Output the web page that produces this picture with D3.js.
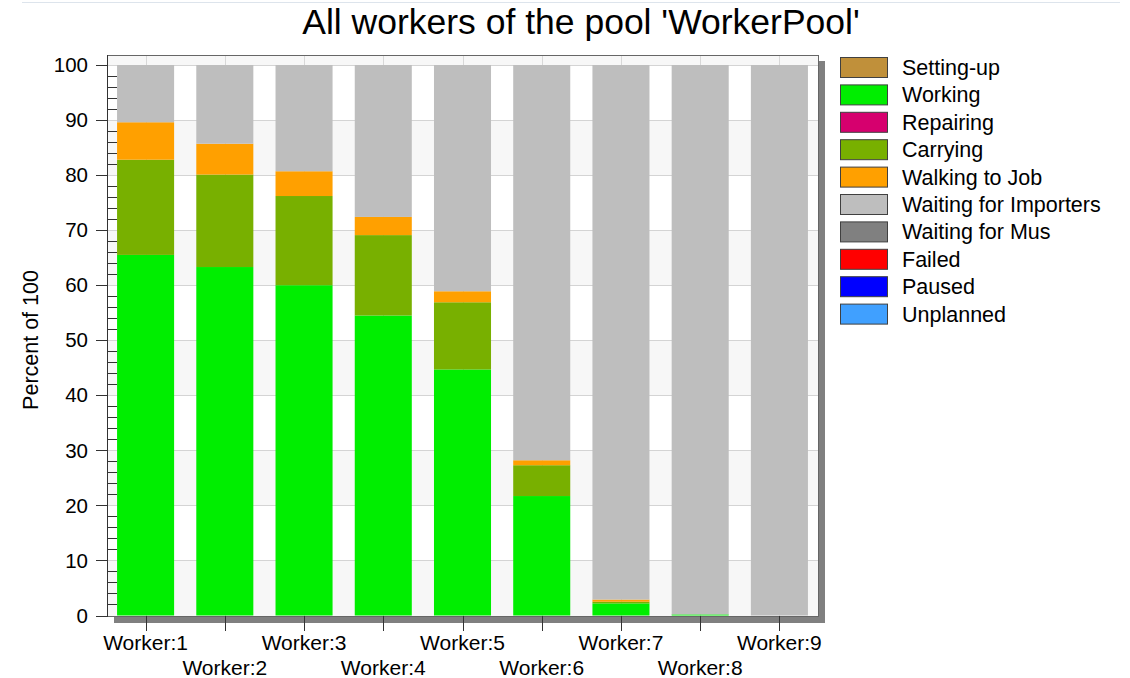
<!DOCTYPE html>
<html lang="en">
  <head>
    <meta charset="UTF-8" />
    <script src="https://d3js.org/d3.v7.min.js"></script>
    <title>All workers of the pool 'WorkerPool'</title>
    <style>
      body {
        margin: 0;
        background: #fff;
      }
      text {
        font-family: Arial, 'Liberation Sans', sans-serif;
        fill: #000;
      }
    </style>
  </head>
  <body>
    <script>
      const workers = ['Worker:1', 'Worker:2', 'Worker:3', 'Worker:4', 'Worker:5', 'Worker:6', 'Worker:7', 'Worker:8', 'Worker:9']
      const states = ['Setting-up', 'Working', 'Repairing', 'Carrying', 'Walking to Job', 'Waiting for Importers', 'Waiting for Mus', 'Failed', 'Paused', 'Unplanned']
      const stateColors = ['#c0903a', '#00ee00', '#d6006e', '#78b000', '#ffa000', '#bebebe', '#808080', '#ff0000', '#0000ff', '#40a0ff']

      const settingUp = [0, 0, 0, 0, 0, 0, 0, 0, 0]
      const working = [65.5, 63.3, 60.0, 54.5, 44.7, 21.7, 2.2, 0.2, 0]
      const repairing = [0, 0, 0, 0, 0, 0, 0, 0, 0]
      const carrying = [17.3, 16.8, 16.2, 14.6, 12.2, 5.6, 0.3, 0, 0]
      const walkingToJob = [6.8, 5.6, 4.5, 3.3, 2.0, 0.9, 0.4, 0, 0]
      const waitingImporters = [10.4, 14.3, 19.3, 27.6, 41.1, 71.8, 97.1, 99.8, 100]
      const waitingMus = [0, 0, 0, 0, 0, 0, 0, 0, 0]
      const failed = [0, 0, 0, 0, 0, 0, 0, 0, 0]
      const paused = [0, 0, 0, 0, 0, 0, 0, 0, 0]
      const unplanned = [0, 0, 0, 0, 0, 0, 0, 0, 0]

      const yTicks = [0, 10, 20, 30, 40, 50, 60, 70, 80, 90, 100]

      const series = [settingUp, working, repairing, carrying, walkingToJob, waitingImporters, waitingMus, failed, paused, unplanned]
      const table = workers.map((w, i) => {
        const row = { worker: w }
        states.forEach((s, j) => { row[s] = series[j][i] })
        return row
      })

      const width = 1130
      const height = 678
      const frame = { left: 107, right: 818, top: 55, bottom: 616 }

      const svg = d3.select('body')
        .append('svg')
        .attr('width', width)
        .attr('height', height)

      const x = d3.scaleBand()
        .domain(workers)
        .range([frame.left, frame.right])
        .paddingInner(0.28)
        .paddingOuter(0.127)

      const y = d3.scaleLinear()
        .domain([0, 100])
        .range([615.5, 65])

      // faint page rule at the top
      svg.append('line')
        .attr('x1', 22).attr('x2', 1120)
        .attr('y1', 2.5).attr('y2', 2.5)
        .attr('stroke', '#dde4ec')

      // drop shadow of the plot frame
      svg.append('rect')
        .attr('x', frame.left + 7).attr('y', frame.bottom + 1)
        .attr('width', frame.right - frame.left).attr('height', 6)
        .attr('fill', '#808080')
      svg.append('rect')
        .attr('x', frame.right + 1).attr('y', frame.top + 6)
        .attr('width', 6).attr('height', frame.bottom - frame.top + 1)
        .attr('fill', '#808080')

      // plot background with alternating bands
      svg.append('rect')
        .attr('x', frame.left).attr('y', frame.top)
        .attr('width', frame.right - frame.left).attr('height', frame.bottom - frame.top)
        .attr('fill', '#f7f7f7')

      svg.append('g')
        .selectAll('rect')
        .data(yTicks.slice(0, -1))
        .join('rect')
        .attr('x', frame.left)
        .attr('y', d => y(d + 10))
        .attr('width', frame.right - frame.left)
        .attr('height', d => y(d) - y(d + 10))
        .attr('fill', d => (d / 10) % 2 === 0 ? '#f7f7f7' : '#ffffff')

      // grid
      svg.append('g')
        .selectAll('line')
        .data(yTicks)
        .join('line')
        .attr('x1', frame.left).attr('x2', frame.right)
        .attr('y1', d => Math.round(y(d)) + 0.5)
        .attr('y2', d => Math.round(y(d)) + 0.5)
        .attr('stroke', '#d4d4d4')

      svg.append('g')
        .selectAll('line')
        .data(workers)
        .join('line')
        .attr('x1', d => Math.round(x(d) + x.bandwidth() / 2) + 0.5)
        .attr('x2', d => Math.round(x(d) + x.bandwidth() / 2) + 0.5)
        .attr('y1', frame.top).attr('y2', frame.bottom)
        .attr('stroke', '#d8d8d8')

      // stacked bars
      const stacked = d3.stack().keys(states)(table)

      svg.append('g')
        .selectAll('g')
        .data(stacked)
        .join('g')
        .attr('fill', (d, i) => stateColors[i])
        .selectAll('rect')
        .data(d => d)
        .join('rect')
        .attr('x', d => x(d.data.worker))
        .attr('y', d => y(d[1]))
        .attr('width', x.bandwidth())
        .attr('height', d => Math.max(0, y(d[0]) - y(d[1])))

      // minor ticks inside the left edge
      const minor = d3.range(0, 101, 2).filter(v => v % 10 !== 0)
      svg.append('g')
        .selectAll('line')
        .data(minor)
        .join('line')
        .attr('x1', frame.left).attr('x2', frame.left + 10)
        .attr('y1', d => Math.round(y(d)) + 0.5)
        .attr('y2', d => Math.round(y(d)) + 0.5)
        .attr('stroke', '#333')

      // frame
      svg.append('rect')
        .attr('x', frame.left + 0.5).attr('y', frame.top + 0.5)
        .attr('width', frame.right - frame.left).attr('height', frame.bottom - frame.top)
        .attr('fill', 'none')
        .attr('stroke', '#666')
      svg.append('line')
        .attr('x1', frame.left + 0.5).attr('x2', frame.left + 0.5)
        .attr('y1', frame.top).attr('y2', frame.bottom + 1)
        .attr('stroke', '#333')

      // y axis
      const yAxis = svg.append('g')
      yAxis.selectAll('line')
        .data(yTicks)
        .join('line')
        .attr('x1', 96).attr('x2', frame.left)
        .attr('y1', d => Math.round(y(d)) + 0.5)
        .attr('y2', d => Math.round(y(d)) + 0.5)
        .attr('stroke', '#333')
      yAxis.selectAll('text')
        .data(yTicks)
        .join('text')
        .attr('x', 88)
        .attr('y', d => y(d))
        .attr('dy', '0.35em')
        .attr('text-anchor', 'end')
        .style('font-size', '20.5px')
        .text(d => d)

      svg.append('text')
        .attr('transform', 'translate(38,340) rotate(-90)')
        .attr('text-anchor', 'middle')
        .style('font-size', '21.5px')
        .text('Percent of 100')

      // x axis
      const xAxis = svg.append('g')
      xAxis.selectAll('line')
        .data(workers)
        .join('line')
        .attr('x1', d => Math.round(x(d) + x.bandwidth() / 2) + 0.5)
        .attr('x2', d => Math.round(x(d) + x.bandwidth() / 2) + 0.5)
        .attr('y1', frame.bottom).attr('y2', 631)
        .attr('stroke', '#333')
      xAxis.selectAll('text')
        .data(workers)
        .join('text')
        .attr('x', d => x(d) + x.bandwidth() / 2)
        .attr('y', (d, i) => i % 2 === 0 ? 650 : 675)
        .attr('text-anchor', 'middle')
        .style('font-size', '21px')
        .text(d => d)

      // title
      svg.append('text')
        .attr('x', 581)
        .attr('y', 34)
        .attr('text-anchor', 'middle')
        .style('font-size', '35.5px')
        .text("All workers of the pool 'WorkerPool'")

      // legend
      const legend = svg.append('g')
        .selectAll('g')
        .data(states)
        .join('g')
        .attr('transform', (d, i) => 'translate(840,' + (57 + i * 27.4) + ')')
      legend.append('rect')
        .attr('x', 0.5).attr('y', 0.5)
        .attr('width', 47).attr('height', 20)
        .attr('fill', (d, i) => stateColors[i])
        .attr('stroke', '#404040')
      legend.append('text')
        .attr('x', 62)
        .attr('y', 18)
        .style('font-size', '21.5px')
        .text(d => d)
    </script>
  </body>
</html>
